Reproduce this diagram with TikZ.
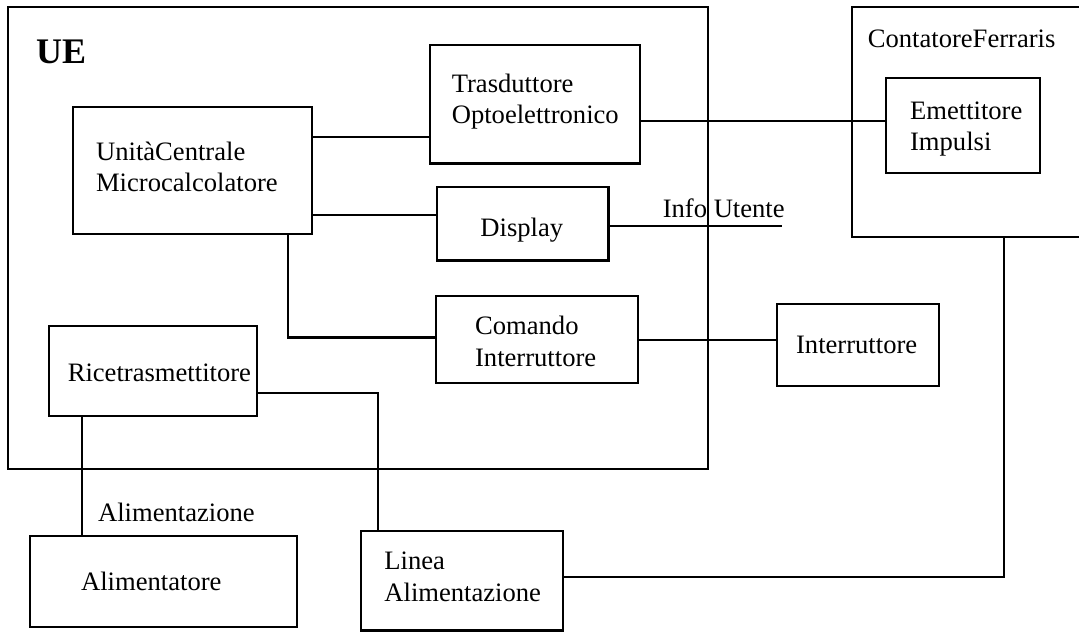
\documentclass[tikz,border=0pt]{standalone}
\usepackage{fontspec}
\setmainfont{Liberation Serif}
\usetikzlibrary{fit}
\begin{document}
\begin{tikzpicture}[x=1pt,y=-1pt,
  line width=2.2pt,
  box/.style={draw, rectangle, inner sep=0pt},
  lbl/.style={anchor=base west, inner sep=0pt, align=left,
    font=\fontsize{26.6}{31.5}\selectfont},
  wire/.style={draw, line join=miter}]
\useasboundingbox (0,0) rectangle (1079,632);

% enclosing units
\node[box, fit={(8,7) (707.7,469)}] (ue) {};
\node[box, fit={(851.7,7) (1095,237)}] (cf) {};

% blocks
\node[box, fit={(885.7,78) (1040,173)}] (emett) {};
\node[box, fit={(430,45) (640,163.5)}] (trasd) {};
\node[box, fit={(73,107) (312,234)}] (uc) {};
\node[box, fit={(437,187) (608.5,260.5)}] (disp) {};
\node[box, fit={(435.7,295.7) (637.7,383.3)}] (cmd) {};
\node[box, fit={(776.7,304) (939.3,386)}] (interr) {};
\node[box, fit={(49,325.7) (257,415.7)}] (ric) {};
\node[box, fit={(30,535.7) (297,626.7)}] (alim) {};
\node[box, fit={(361,530.7) (562.7,630.5)}] (linea) {};

% texts (multi-line labels are anchored on their last baseline)
\node[lbl, font=\fontsize{36}{40}\selectfont\bfseries] (tue) at (35,63) {UE};
\node[lbl] (tcf) at (866.7,47) {ContatoreFerraris};
\node[lbl] (temett) at (909,150.5) {Emettitore\\Impulsi};
\node[lbl] (ttrasd) at (450.7,123.5) {Trasduttore\\Optoelettronico};
\node[lbl] (tuc) at (95,191.5) {UnitàCentrale\\Microcalcolatore};
\node[lbl] (tdisp) at (479.3,236) {Display};
\node[lbl, font=\fontsize{26.6}{32.5}\selectfont] (tcmd) at (474,366.7) {Comando\\Interruttore};
\node[lbl] (tinterr) at (795,353.3) {Interruttore};
\node[lbl] (tric) at (66.7,381.7) {Ricetrasmettitore};
\node[lbl] (talim) at (80,590) {Alimentatore};
\node[lbl, font=\fontsize{26.6}{32.5}\selectfont] (tlinea) at (383.3,601.7) {Linea\\Alimentazione};
\node[lbl] (tinfo) at (661.7,217) {Info Utente};
\node[lbl] (taliz) at (97,521.7) {Alimentazione};

\coordinate (infoend) at (781.7,225.7);

% connections
\draw[wire] (uc.east |- 0,137) -- (trasd.west |- 0,137);
\draw[wire] (trasd.east |- 0,121) -- (emett.west |- 0,121);
\draw[wire] (uc.east |- 0,215) -- (disp.west |- 0,215);
\draw[wire] (disp.east |- infoend) -- (infoend);
\draw[wire] (uc.south -| 288,0) -- (288,337.5) -- (cmd.west |- 0,337.5);
\draw[wire] (cmd.east |- 0,340) -- (interr.west |- 0,340);
\draw[wire] (ric.east |- 0,393.3) -- (378,393.3) -- (linea.north -| 378,0);
\draw[wire] (ric.south -| 82,0) -- (alim.north -| 82,0);
\draw[wire] (linea.east |- 0,577.3) -- (1004.3,577.3) -- (cf.south -| 1004.3,0);
\end{tikzpicture}
\end{document}
